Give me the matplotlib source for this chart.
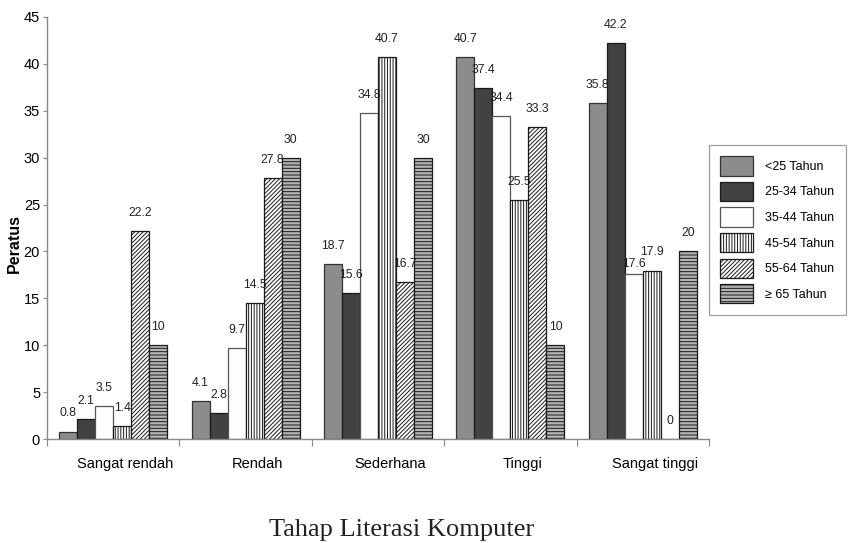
import matplotlib.pyplot as plt
import matplotlib.transforms as mtransforms
import numpy as np

plt.rcParams['font.family'] = ['Liberation Sans', 'DejaVu Sans']
plt.rcParams['hatch.linewidth'] = 0.7

categories = ["Sangat rendah", "Rendah", "Sederhana", "Tinggi", "Sangat tinggi"]
age_groups = ["<25 Tahun", "25-34 Tahun", "35-44 Tahun", "45-54 Tahun", "55-64 Tahun", "\u2265 65 Tahun"]

under_25 = [0.8, 4.1, 18.7, 40.7, 35.8]
age_25_34 = [2.1, 2.8, 15.6, 37.4, 42.2]
age_35_44 = [3.5, 9.7, 34.8, 34.4, 17.6]
age_45_54 = [1.4, 14.5, 40.7, 25.5, 17.9]
age_55_64 = [22.2, 27.8, 16.7, 33.3, 0]
over_65 = [10, 30, 30, 10, 20]

series = [under_25, age_25_34, age_35_44, age_45_54, age_55_64, over_65]

# fill, edge, hatch per age group
styles = [
    ("#8c8c8c", "#333333", None),
    ("#424242", "#1a1a1a", None),
    ("#fdfdfd", "#555555", None),
    ("#ffffff", "#1a1a1a", "||||||"),
    ("#ffffff", "#1a1a1a", "////////"),
    ("#b4b4b4", "#1a1a1a", "-----"),
]

fig = plt.figure(figsize=(8.52, 5.43), dpi=100)
ax = fig.add_axes([0.0552, 0.1915, 0.777, 0.7772])

x = np.arange(len(categories))
w = 0.136
handles = []
for k, (vals, (fc, ec, hatch)) in enumerate(zip(series, styles)):
    pos = x + (k - 2.5) * w
    bars = ax.bar(pos, vals, w, color=fc, edgecolor=ec, linewidth=0.9, hatch=hatch,
                  label=age_groups[k])
    handles.append(bars)
    for i, (px, v) in enumerate(zip(pos, vals)):
        dy = 13
        # neighbouring labels 17.6 / 17.9 would collide, stagger them
        if i == 4 and k == 2:
            dy = 7
        elif i == 4 and k == 3:
            dy = 14
        ax.annotate(f"{v:g}", (px, v), xytext=(0, dy), textcoords="offset points",
                    ha="center", va="center", fontsize=8.8, color="#222222")

ax.set_xlim(-0.5, len(categories) - 0.5)
ax.set_ylim(0, 45)
ax.set_yticks(np.arange(0, 46, 5))

# boundary ticks between groups, labels at group centres
ax.set_xticks(np.arange(-0.5, len(categories), 1.0))
ax.set_xticklabels([])
ax.set_xticks(x, minor=True)
ax.set_xticklabels(categories, minor=True, fontsize=10.5)
ax.tick_params(axis="x", which="major", length=5, color="#888888")
ax.tick_params(axis="x", which="minor", length=0, pad=13)
ax.tick_params(axis="y", length=3, color="#888888", labelsize=10.5, pad=2)
shift = mtransforms.ScaledTranslation(12 / 100, 0, fig.dpi_scale_trans)
for lbl in ax.get_xticklabels(minor=True):
    lbl.set_transform(lbl.get_transform() + shift)

for side in ["top", "right"]:
    ax.spines[side].set_visible(False)
for side in ["left", "bottom"]:
    ax.spines[side].set_color("#888888")
    ax.spines[side].set_linewidth(1.0)

fig.text(14 / 852, 1 - 243 / 543, "Peratus", rotation=90, ha="center", va="center",
         fontsize=11.5, fontweight="bold")
fig.text(402 / 852, 1 - 530 / 543, "Tahap Literasi Komputer", ha="center", va="center",
         fontsize=19, family=["Liberation Serif", "DejaVu Serif"], color="#222222")

leg = fig.legend(handles=handles, loc="upper left", bbox_to_anchor=(709 / 852, 1 - 145 / 543),
                 fontsize=9, frameon=True, fancybox=False, handlelength=2.6, handleheight=2.0,
                 labelspacing=0.5, borderpad=0.9, handletextpad=1.0, borderaxespad=0)
leg.get_frame().set_edgecolor("#888888")
leg.get_frame().set_linewidth(0.9)

fig.savefig("out.png", dpi=100)
